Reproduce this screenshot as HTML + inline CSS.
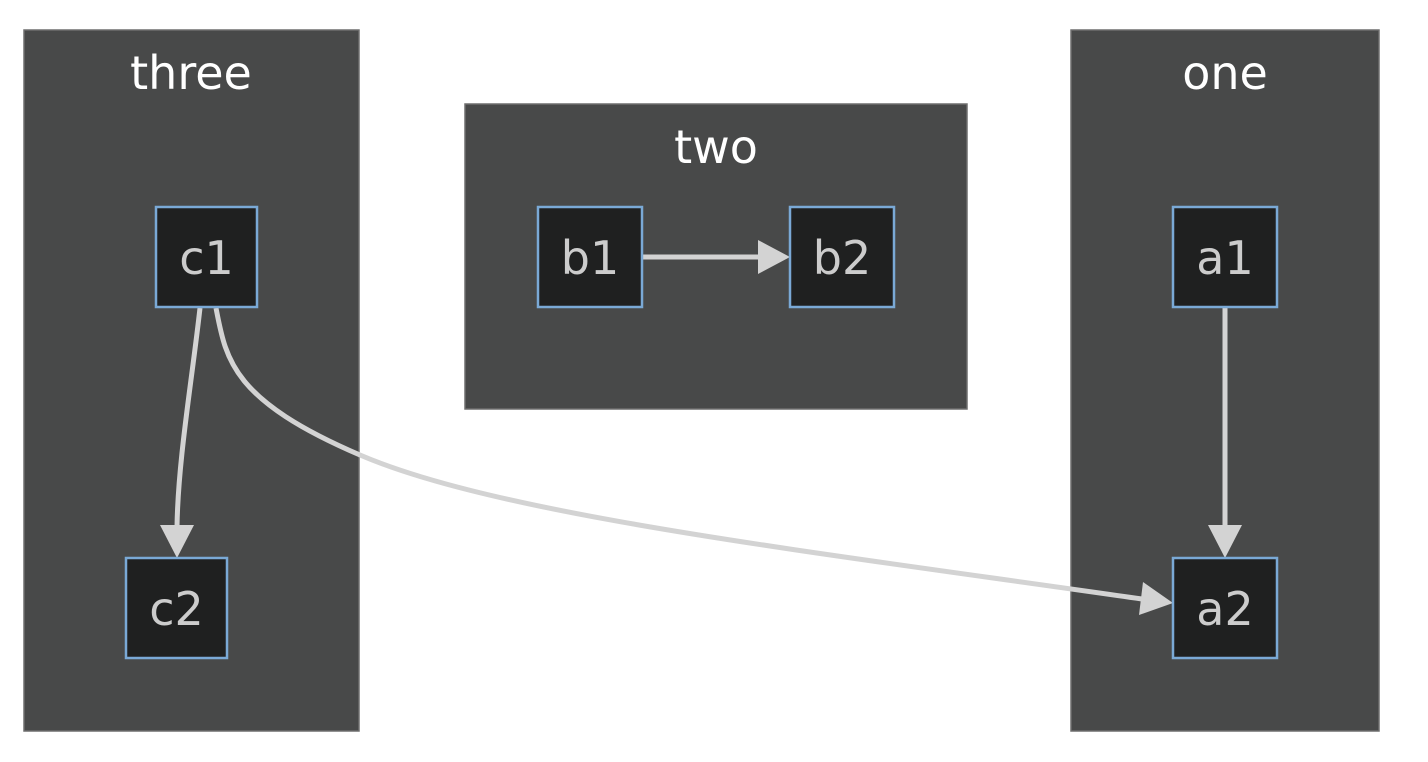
<!DOCTYPE html>
<html><head><meta charset="utf-8"><style>
html,body{margin:0;padding:0;background:#fff;}
svg{display:block;}
text{font-family:"DejaVu Sans","Liberation Sans",sans-serif;}
</style></head><body>
<svg width="1428" height="762" viewBox="0 0 1428 762">
<g>
<rect x="24" y="30" width="335" height="701" fill="#484949" stroke="#6e6e6e" stroke-width="1.5"/>
<text x="191" y="89" font-size="46" fill="#ffffff" text-anchor="middle">three</text>
</g>
<g>
<rect x="465" y="104" width="502" height="305" fill="#484949" stroke="#6e6e6e" stroke-width="1.5"/>
<text x="716" y="163" font-size="46" fill="#ffffff" text-anchor="middle">two</text>
</g>
<g>
<rect x="1071" y="30" width="308" height="701" fill="#484949" stroke="#6e6e6e" stroke-width="1.5"/>
<text x="1225" y="89" font-size="46" fill="#ffffff" text-anchor="middle">one</text>
</g>

<g fill="none" stroke="#d3d3d3" stroke-width="5">
<path d="M200,308 C192,380 178,460 177,527"/>
<path d="M216,308 C226,360 232,400 360,455 C500,515 800,550 1142,599"/>
<path d="M1225,308 L1225,527"/>
<path d="M643,257 L760,257"/>
</g>
<g fill="#d3d3d3">
<polygon points="160,525 194,525 177,558"/>
<polygon points="1143,582 1139,615 1173,603"/>
<polygon points="1208,525 1242,525 1225,558"/>
<polygon points="758,240 758,274 790,257"/>
</g>

<g font-size="46" fill="#cccccc" text-anchor="middle">
<g><rect x="156" y="207" width="101" height="100" fill="#1f2020" stroke="#7aa9d6" stroke-width="2.5"/><text x="206.5" y="274" fill="#cccccc">c1</text></g>
<g><rect x="126" y="558" width="101" height="100" fill="#1f2020" stroke="#7aa9d6" stroke-width="2.5"/><text x="176.5" y="625" fill="#cccccc">c2</text></g>
<g><rect x="538" y="207" width="104" height="100" fill="#1f2020" stroke="#7aa9d6" stroke-width="2.5"/><text x="590" y="274" fill="#cccccc">b1</text></g>
<g><rect x="790" y="207" width="104" height="100" fill="#1f2020" stroke="#7aa9d6" stroke-width="2.5"/><text x="842" y="274" fill="#cccccc">b2</text></g>
<g><rect x="1173" y="207" width="104" height="100" fill="#1f2020" stroke="#7aa9d6" stroke-width="2.5"/><text x="1225" y="274" fill="#cccccc">a1</text></g>
<g><rect x="1173" y="558" width="104" height="100" fill="#1f2020" stroke="#7aa9d6" stroke-width="2.5"/><text x="1225" y="625" fill="#cccccc">a2</text></g>
</g>
</svg>
</body></html>
